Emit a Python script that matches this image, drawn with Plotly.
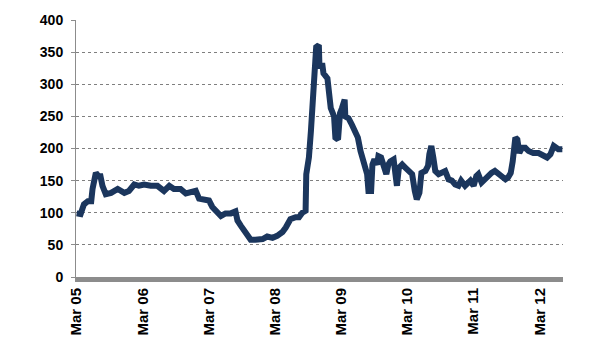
import plotly.graph_objects as go

# time in fractional years, value index
years = [
    2005.17, 2005.23, 2005.28, 2005.34, 2005.39, 2005.41, 2005.46, 2005.50, 2005.53, 2005.56,
    2005.61, 2005.69, 2005.79, 2005.89, 2005.96, 2006.04, 2006.11, 2006.19, 2006.29, 2006.39,
    2006.49, 2006.57, 2006.64, 2006.74, 2006.82, 2006.92, 2006.97, 2007.02, 2007.09, 2007.17,
    2007.22, 2007.30, 2007.35, 2007.42, 2007.50, 2007.57, 2007.60, 2007.65, 2007.70, 2007.75,
    2007.80, 2007.87, 2007.98, 2008.05, 2008.13, 2008.20, 2008.28, 2008.33, 2008.40, 2008.48,
    2008.53, 2008.58, 2008.63, 2008.64, 2008.68, 2008.71, 2008.74, 2008.76, 2008.79, 2008.83,
    2008.84, 2008.88, 2008.90, 2008.96, 2008.98, 2009.01, 2009.06, 2009.08, 2009.12, 2009.15,
    2009.18, 2009.22, 2009.23, 2009.28, 2009.33, 2009.38, 2009.42, 2009.46, 2009.51, 2009.56,
    2009.58, 2009.62, 2009.64, 2009.67, 2009.71, 2009.73, 2009.77, 2009.81, 2009.85, 2009.88,
    2009.91, 2009.96, 2009.99, 2010.01, 2010.04, 2010.09, 2010.14, 2010.19, 2010.24, 2010.28,
    2010.31, 2010.35, 2010.38, 2010.44, 2010.48, 2010.50, 2010.53, 2010.56, 2010.59, 2010.64,
    2010.69, 2010.74, 2010.79, 2010.84, 2010.89, 2010.94, 2010.98, 2011.04, 2011.12, 2011.17,
    2011.21, 2011.24, 2011.29, 2011.34, 2011.39, 2011.44, 2011.49, 2011.54, 2011.60, 2011.65,
    2011.69, 2011.73, 2011.76, 2011.80, 2011.83, 2011.86, 2011.90, 2011.95, 2012.00, 2012.07,
    2012.15, 2012.22, 2012.28, 2012.33, 2012.38, 2012.45, 2012.51,
]
values = [
    99, 98, 113, 118, 118, 137, 162, 157, 157, 142,
    129, 131, 137, 131, 134, 144, 142, 144, 142, 142,
    134, 142, 137, 137, 130, 133, 134, 122, 120, 119,
    109, 100, 95, 99, 99, 102, 88, 80, 72, 64,
    58, 58, 59, 63, 61, 64, 70, 77, 90, 93,
    93, 100, 103, 160, 186, 227, 268, 317, 358, 361,
    325, 333, 317, 309, 286, 263, 250, 217, 214, 255,
    263, 276, 250, 247, 237, 227, 217, 196, 180, 160,
    134, 134, 175, 183, 175, 188, 186, 173, 160, 175,
    180, 183, 165, 142, 170, 175, 170, 166, 160, 134,
    121, 131, 162, 165, 173, 191, 204, 186, 165, 160,
    162, 165, 152, 150, 144, 142, 150, 142, 150, 142,
    157, 160, 147, 152, 160, 162, 165, 160, 155, 152,
    155, 162, 180, 217, 214, 193, 201, 201, 196, 193,
    193, 188, 186, 191, 204, 199, 199,
]

tick_years = [2005.167, 2006.167, 2007.167, 2008.167, 2009.167, 2010.167, 2011.167, 2012.167]
tick_labels = ["Mar 05", "Mar 06", "Mar 07", "Mar 08", "Mar 09", "Mar 10", "Mar 11", "Mar 12"]
y_ticks = [0, 50, 100, 150, 200, 250, 300, 350, 400]

fig = go.Figure()
fig.add_trace(go.Scatter(
    x=years, y=values, mode="lines",
    line=dict(color="#1B365D", width=6),
    hoverinfo="skip", showlegend=False,
))

fig.update_layout(
    width=605, height=351,
    margin=dict(l=76, r=42, t=18, b=74),
    paper_bgcolor="white", plot_bgcolor="white",
    font=dict(family="Liberation Sans, Arial, sans-serif", color="black"),
)
fig.update_xaxes(
    range=[2005.16, 2012.52],
    tickvals=tick_years, ticktext=["<b>%s</b>" % t for t in tick_labels],
    tickangle=-90,
    tickfont=dict(size=15, color="black"),
    showgrid=False, zeroline=False,
    showline=True, linecolor="#8C8C8C", linewidth=5,
    ticks="",
)
fig.update_yaxes(
    range=[0, 400], tickvals=y_ticks, ticktext=["<b>%d</b>" % v for v in y_ticks],
    tickfont=dict(size=14, color="black"),
    ticklabelstandoff=5,
    showgrid=True, gridcolor="#7F7F7F", griddash="dot", gridwidth=1,
    zeroline=False,
    showline=True, linecolor="#8C8C8C", linewidth=1,
    ticks="outside", ticklen=4, tickcolor="#8C8C8C",
)

fig.write_html("out.html")
